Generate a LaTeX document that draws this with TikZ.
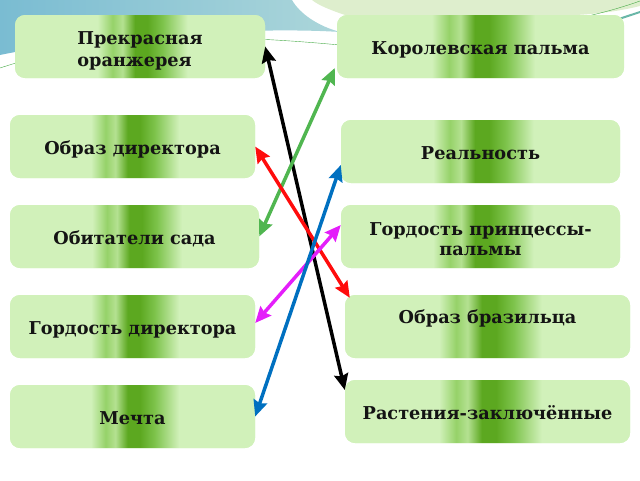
\documentclass[tikz,border=0pt]{standalone}
\usepackage{fontspec}
\setmainfont{DejaVu Serif}
\usepackage{tikz}
\usetikzlibrary{positioning,arrows.meta}

\definecolor{boxg}{RGB}{209,241,186}
\definecolor{palg}{RGB}{180,225,145}
\definecolor{ltg}{RGB}{150,210,105}
\definecolor{midg}{RGB}{125,195,75}
\definecolor{darkg}{RGB}{92,168,32}
\definecolor{textc}{RGB}{20,20,20}
\definecolor{skyb}{RGB}{122,188,210}
\definecolor{skyl}{RGB}{172,214,218}
\definecolor{paleg}{RGB}{222,238,205}
\definecolor{decog}{RGB}{70,170,70}
\definecolor{arrg}{RGB}{80,182,80}
\definecolor{arrr}{RGB}{255,12,12}
\definecolor{arrb}{RGB}{0,112,192}
\definecolor{arrm}{RGB}{228,30,250}

\pgfdeclarehorizontalshading{stripe}{100bp}{color(0bp)=(boxg); color(41.5bp)=(boxg);
  color(44.5bp)=(ltg); color(46.5bp)=(palg); color(49bp)=(darkg); color(51.5bp)=(darkg);
  color(54.5bp)=(midg); color(59.5bp)=(boxg); color(100bp)=(boxg)}
\pgfdeclarehorizontalshading{sky}{100bp}{color(0bp)=(skyb); color(25bp)=(skyb);
  color(75bp)=(skyl); color(100bp)=(skyl)}

\begin{document}
\begin{tikzpicture}[x=1pt,y=-1pt,
  box/.style={fill=boxg,rounded corners=10pt,minimum height=63pt,inner sep=0pt,
    path picture={\shade[shading=stripe] (path picture bounding box.south west)
      rectangle (path picture bounding box.north east);},
    text height=18pt,text depth=3pt,
    text=textc,font=\fontsize{17.7}{22}\selectfont\bfseries},
  twoline/.style={text height=,text depth=},
  link/.style={<->,>={Stealth[length=16pt,width=14pt,inset=2pt]},line width=3.5pt}]
\useasboundingbox (0,0) rectangle (640,480);
% top decoration
\shade[shading=sky] (0,0) -- (292,0) .. controls (300,14) and (318,26) .. (340,32)
  .. controls (250,26) and (80,38) .. (0,55) -- cycle;
\fill[paleg] (312,0) -- (640,0) -- (640,6) .. controls (600,16) and (560,16) .. (520,16)
  -- (345,15) .. controls (330,10) and (318,5) .. cycle;
\draw[decog,thin] (0,68) .. controls (100,35) and (200,32) .. (340,45);
\draw[decog,thin] (560,22) .. controls (600,14) and (620,8) .. (640,1);
\draw[skyb!70!decog,line width=2pt] (600,26) .. controls (615,20) and (628,16) .. (640,12);
% boxes
\node[box,twoline,minimum width=250pt,align=left] (oranj) at (140,46.5)
  {\rule{0pt}{22pt}Прекрасная\\оранжерея};
\node[box,minimum width=287pt] (korol) at (480.5,46.5) {Королевская пальма};
\node[box,minimum width=245pt] (dir) at (132.5,146.5) {Образ директора};
\node[box,minimum width=279pt] (real) at (480.5,151.5) {Реальность};
\node[box,minimum width=249pt] (obit) at (134.5,236.5) {Обитатели сада};
\node[box,twoline,minimum width=279pt,align=center,font=\fontsize{17.7}{20}\selectfont\bfseries]
  (gord) at (480.5,236.5) {\rule{0pt}{18pt}Гордость принцессы-\\пальмы};
\node[box,minimum width=245pt] (gdir) at (132.5,326.5) {Гордость директора};
\node[box,minimum width=285pt,text depth=25pt] (braz) at (487.5,326.5) {Образ бразильца};
\node[box,minimum width=245pt] (mechta) at (132.5,416.5) {Мечта};
\node[box,minimum width=285pt] (rast) at (487.5,411.5) {Растения-заключённые};
% links
\draw[link,black] (oranj.east) -- ([yshift=21.5pt]rast.west);
\draw[link,arrg] ([xshift=-2pt,yshift=-21.5pt]korol.west) -- (obit.east);
\draw[link,arrr] (dir.east) -- ([xshift=5pt,yshift=-3pt]braz.north west);
\draw[link,arrm] ([yshift=11.5pt]gord.west) -- ([yshift=3.5pt]gdir.east);
\draw[link,arrb] ([yshift=-13.5pt]real.west) -- (mechta.east);
\end{tikzpicture}
\end{document}
